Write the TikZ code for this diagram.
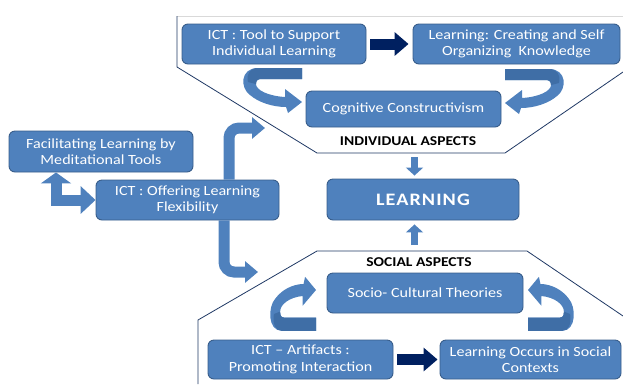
\documentclass[tikz,border=0pt]{standalone}
\usepackage{fontspec}
\setmainfont{Carlito}[FakeStretch=1.15]
\newfontfamily\bigfont{Carlito}[FakeStretch=1.15, LetterSpace=6]
\usetikzlibrary{arrows.meta}
\definecolor{boxblue}{HTML}{4F81BD}
\definecolor{boxedge}{HTML}{385D8A}
\definecolor{bandblue}{HTML}{3F6EA6}
\definecolor{navy}{HTML}{002060}
\definecolor{octline}{HTML}{1F3864}
\tikzset{
  box/.style={rectangle, rounded corners=6pt, fill=boxblue, draw=boxedge, line width=0.9pt,
    text=white, align=center, inner sep=0pt, font=\fontsize{14}{16.5}\selectfont},
  aspect/.style={font=\bfseries\fontsize{13.5}{15}\selectfont, text=black, inner sep=0pt},
  blockarrow/.style={draw=boxblue, line width=11pt, -{Triangle[width=21pt,length=13pt]}},
  darkarrow/.style={draw=navy, line width=11pt, -{Triangle[width=23pt,length=14pt]}},
  smallarrow/.style={draw=boxblue, line width=7pt, -{Triangle[width=17pt,length=8pt]}},
  octagon/.style={draw=octline, line width=0.8pt},
}
% curved ribbon arrow, local coords: tip at origin, pointing to +x, band above
\newcommand{\ribbonarrow}{%
  \fill[boxblue] (0,-34) -- (-44,-34) .. controls (-62,-34) and (-62,-14) .. (-52,-7)
    .. controls (-44,0) and (-30,5) .. (-16,5) -- (-14,11) -- (0,0) -- (-17,-13) -- (-17,-5)
    .. controls (-34,-6) and (-46,-12) .. (-46,-18) .. controls (-46,-22) and (-44,-23) .. (-40,-23)
    -- (0,-23) -- cycle;
  \fill[bandblue] (0,-34) -- (-44,-34) .. controls (-52,-34) and (-56,-28) .. (-54,-20)
    -- (-46,-18) .. controls (-46,-22) and (-44,-23) .. (-40,-23) -- (0,-23) -- cycle;
}
\begin{document}
\begin{tikzpicture}[x=1pt,y=-1pt]
\useasboundingbox (0,0) rectangle (623,384);
% octagon outlines
\draw[draw=black!15, line width=0.8pt] (177,16) -- (623,16);
\draw[octagon] (177,16) -- (177,67) -- (317,153) -- (505,153) -- (623,72);
\draw[octagon] (198,384) -- (198,320) -- (317,251) -- (527,251) -- (623,316);
% boxes
\node[box, minimum width=184pt, minimum height=40pt] (ict1) at (274,44) {ICT : Tool to Support\\Individual Learning};
\node[box, minimum width=207pt, minimum height=40pt] (learn1) at (516.5,44) {Learning: Creating and Self\\Organizing~ Knowledge};
\node[box, minimum width=195pt, minimum height=36pt] (cog) at (403.5,109) {Cognitive Constructivism};
\node[box, minimum width=184pt, minimum height=41pt] (facil) at (101,151.5) {Facilitating Learning by\\Meditational Tools};
\node[box, minimum width=183pt, minimum height=40pt] (ict2) at (187.5,200) {ICT : Offering Learning\\Flexibility};
\node[box, minimum width=192pt, minimum height=41pt, font=\bigfont\bfseries\fontsize{17.5}{20}\selectfont] (learning) at (423,199.5) {LEARNING};
\node[box, minimum width=196pt, minimum height=40pt] (socio) at (425,293) {Socio- Cultural Theories};
\node[box, minimum width=185pt, minimum height=39pt] (ict3) at (300.5,359.5) {ICT – Artifacts :\\Promoting Interaction};
\node[box, minimum width=181pt, minimum height=39pt] (learn3) at (530.5,359.5) {Learning Occurs in Social\\Contexts};
% labels
\node[aspect] (indiv) at (408,141) {INDIVIDUAL ASPECTS};
\node[aspect] (social) at (419,262) {SOCIAL ASPECTS};
% straight dark arrows
\draw[darkarrow, shorten <=4pt, shorten >=4pt] (ict1.east) -- (learn1.west);
\draw[darkarrow, shorten <=4pt, shorten >=2pt] (ict3.east) -- (learn3.west);
% small arrows to LEARNING
\coordinate (topin) at (414.5,157);
\coordinate (botin) at (414.5,245);
\draw[smallarrow, shorten >=3pt] (topin) -- (topin |- learning.north);
\draw[smallarrow, shorten >=4pt] (botin) -- (botin |- learning.south);
% bent arrows from ICT offering flexibility
\coordinate (upend) at (265,128);
\coordinate (downend) at (258,272);
\draw[blockarrow, rounded corners=10pt] ([xshift=41.5pt]ict2.north) |- (upend);
\draw[blockarrow, rounded corners=10pt] ([xshift=36.5pt]ict2.south) |- (downend);
% double headed bent arrow
\draw[draw=boxblue, line width=11pt, {Triangle[width=30pt,length=11pt]}-{Triangle[width=27pt,length=15pt]}]
  (facil.south -| 56,0) |- (ict2.west);
% curved ribbon arrows
\begin{scope}[shift={(302,102)}] \ribbonarrow \end{scope}
\begin{scope}[shift={(505,103)}, xscale=-1] \ribbonarrow \end{scope}
\begin{scope}[shift={(316,290)}, xscale=0.78, yscale=-1.2] \ribbonarrow \end{scope}
\begin{scope}[shift={(528,290)}, xscale=-0.78, yscale=-1.2] \ribbonarrow \end{scope}
\end{tikzpicture}
\end{document}
